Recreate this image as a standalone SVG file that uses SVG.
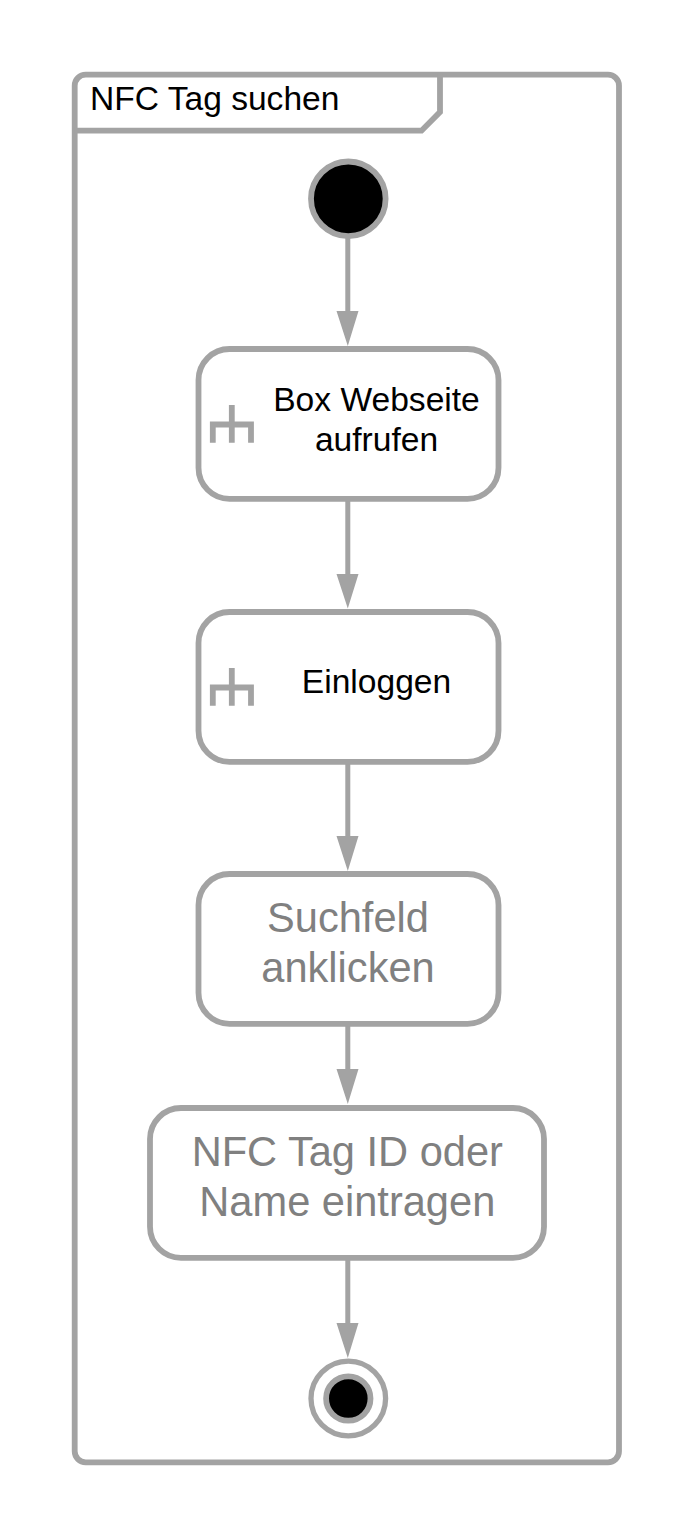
<svg xmlns="http://www.w3.org/2000/svg" width="694" height="1538" viewBox="0 0 694 1538">
<style>
.s{fill:none;stroke:#a3a3a3;stroke-width:5.800}
.b{fill:#fff;stroke:#a3a3a3;stroke-width:5.800}
.l{stroke:#a3a3a3;stroke-width:5;fill:none}
.t{font-family:"Liberation Sans",Arial,sans-serif;text-anchor:middle}
.k{font-size:33.600px;fill:#000}
.g{font-size:41.600px;fill:#808080}
</style>
<rect width="694" height="1538" fill="#fff"/>
<g id="frame">
<rect class="s" x="74.700" y="74.700" width="544.300" height="1387.600" rx="11"/>
<path class="s" d="M74.700 130.700H421.500L440 112V74.700"/>
<text class="t k" x="214.700" y="110">NFC Tag suchen</text>
</g>
<g id="connectors" fill="#a3a3a3">
<path class="l" d="M347.800 238V315M347.800 501V578M347.800 764V841M347.800 1026V1075M347.800 1259V1328"/>
<path d="M336.500 311H358.500L347.800 346ZM336.500 574H358.500L347.800 608.500ZM336.500 836H358.500L347.800 871ZM336.500 1069H358.500L347.800 1104ZM336.500 1323H358.500L347.800 1358Z"/>
</g>
<g id="start"><circle cx="348.300" cy="198.800" r="37.300" fill="#000" stroke="#a3a3a3" stroke-width="5.800"/></g>
<g id="n1"><rect class="b" x="198.500" y="349" width="300" height="149.800" rx="31"/>
<path class="s" d="M231.800 405V442.700M212.800 442.700V424.500H251V442.700"/>
<text class="t k" x="376.500" y="411">Box Webseite</text><text class="t k" x="376.500" y="451">aufrufen</text></g>
<g id="n2"><rect class="b" x="198.500" y="612" width="300" height="149.800" rx="31"/>
<path class="s" d="M231.800 668V705.700M212.800 705.700V687.500H251V705.700"/>
<text class="t k" x="376.500" y="693">Einloggen</text></g>
<g id="n3"><rect class="b" x="198.500" y="874" width="300" height="149.800" rx="31"/>
<text class="t g" x="348" y="932">Suchfeld</text><text class="t g" x="348" y="982">anklicken</text></g>
<g id="n4"><rect class="b" x="150" y="1108" width="394" height="149.800" rx="31"/>
<text class="t g" x="347.300" y="1166">NFC Tag ID oder</text><text class="t g" x="347.300" y="1216">Name eintragen</text></g>
<g id="end"><circle cx="348.300" cy="1398.500" r="37.300" fill="#fff" stroke="#a3a3a3" stroke-width="5.300"/><circle cx="348.300" cy="1398.500" r="22.200" fill="#000" stroke="#a3a3a3" stroke-width="5.800"/></g>
</svg>
